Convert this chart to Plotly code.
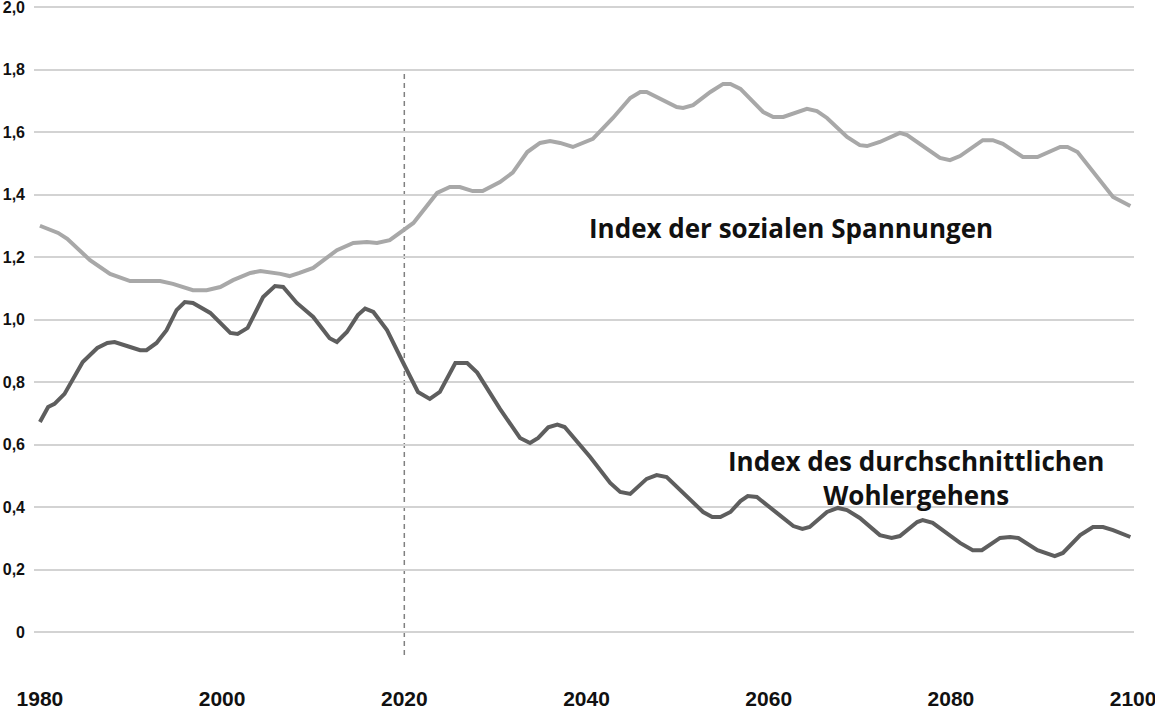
import plotly.graph_objects as go

# Index der sozialen Spannungen (light line)
years_tension = [1980.0, 1982.0, 1983.0, 1985.5, 1987.7, 1989.9, 1993.2, 1994.6, 1996.8, 1998.3,
                 1999.8, 2001.2, 2003.1, 2004.2, 2006.4, 2007.4, 2008.5, 2010.0, 2012.6, 2014.4,
                 2015.9, 2017.0, 2018.4, 2019.5, 2021.0, 2023.6, 2025.0, 2026.1, 2027.5, 2028.6,
                 2030.5, 2031.9, 2033.5, 2034.9, 2036.0, 2037.1, 2038.5, 2040.7, 2042.9, 2044.8,
                 2045.9, 2046.6, 2049.9, 2050.6, 2051.7, 2053.6, 2055.0, 2055.8, 2056.9, 2059.4,
                 2060.5, 2061.6, 2064.2, 2065.3, 2066.4, 2068.6, 2070.0, 2070.8, 2072.2, 2074.4,
                 2075.2, 2078.8, 2079.9, 2081.0, 2083.5, 2084.6, 2085.7, 2087.9, 2089.5, 2092.0,
                 2092.8, 2093.9, 2096.1, 2097.8, 2099.7]
tension = [1.300, 1.277, 1.258, 1.190, 1.146, 1.123, 1.123, 1.114, 1.094, 1.094,
           1.104, 1.126, 1.149, 1.155, 1.146, 1.139, 1.149, 1.165, 1.222, 1.245,
           1.248, 1.245, 1.254, 1.277, 1.309, 1.405, 1.424, 1.424, 1.411, 1.411,
           1.440, 1.470, 1.536, 1.565, 1.571, 1.565, 1.552, 1.578, 1.645, 1.709,
           1.728, 1.728, 1.680, 1.677, 1.686, 1.728, 1.754, 1.754, 1.738, 1.664,
           1.648, 1.648, 1.674, 1.667, 1.645, 1.584, 1.558, 1.555, 1.568, 1.597,
           1.590, 1.517, 1.510, 1.523, 1.574, 1.574, 1.562, 1.520, 1.520, 1.552,
           1.552, 1.536, 1.456, 1.392, 1.363]

# Index des durchschnittlichen Wohlergehens (dark line)
years_wellbeing = [1980.0, 1980.9, 1981.6, 1982.7, 1984.7, 1986.3, 1987.4, 1988.2, 1989.9, 1991.0,
                   1991.7, 1992.8, 1993.9, 1995.0, 1995.9, 1996.8, 1998.7, 2000.0, 2000.9, 2001.7,
                   2002.8, 2004.5, 2005.8, 2006.7, 2008.2, 2010.0, 2011.8, 2012.6, 2013.7, 2014.9,
                   2015.7, 2016.6, 2018.1, 2019.9, 2021.5, 2022.8, 2023.9, 2025.6, 2026.9, 2028.0,
                   2030.5, 2032.7, 2033.8, 2034.7, 2035.8, 2036.8, 2037.6, 2040.4, 2042.6, 2043.7,
                   2044.8, 2046.6, 2047.7, 2048.8, 2050.6, 2052.8, 2053.8, 2054.7, 2055.8, 2056.9,
                   2057.7, 2058.7, 2061.2, 2062.7, 2063.7, 2064.5, 2066.4, 2067.6, 2068.6, 2070.0,
                   2072.2, 2073.5, 2074.4, 2076.3, 2076.9, 2078.0, 2081.0, 2082.4, 2083.4, 2085.4,
                   2086.5, 2087.4, 2089.5, 2091.4, 2092.3, 2094.2, 2095.6, 2096.7, 2097.8, 2099.7]
wellbeing = [0.672, 0.720, 0.730, 0.762, 0.864, 0.909, 0.925, 0.928, 0.912, 0.902,
             0.902, 0.925, 0.966, 1.030, 1.056, 1.053, 1.021, 0.982, 0.957, 0.954,
             0.973, 1.072, 1.107, 1.104, 1.053, 1.008, 0.940, 0.928, 0.960, 1.014,
             1.035, 1.024, 0.966, 0.860, 0.768, 0.746, 0.768, 0.861, 0.861, 0.830,
             0.714, 0.621, 0.605, 0.621, 0.655, 0.664, 0.656, 0.560, 0.477, 0.448,
             0.442, 0.490, 0.502, 0.496, 0.445, 0.384, 0.368, 0.368, 0.384, 0.419,
             0.435, 0.432, 0.374, 0.339, 0.330, 0.336, 0.384, 0.397, 0.390, 0.365,
             0.310, 0.301, 0.307, 0.352, 0.358, 0.349, 0.285, 0.262, 0.262, 0.301,
             0.304, 0.301, 0.262, 0.243, 0.253, 0.310, 0.336, 0.336, 0.326, 0.304]

x_ticks = [1980, 2000, 2020, 2040, 2060, 2080, 2100]
y_ticks = [0, 0.2, 0.4, 0.6, 0.8, 1.0, 1.2, 1.4, 1.6, 1.8, 2.0]
y_ticklabels = ["0", "0,2", "0,4", "0,6", "0,8", "1,0", "1,2", "1,4", "1,6", "1,8", "2,0"]

label_tension = "Index der sozialen Spannungen"
label_wellbeing = "Index des durchschnittlichen<br>Wohlergehens"

y_min, y_max = -0.0736, 2.0064
tick_font = "'Liberation Sans', Arial, sans-serif"
label_font = "'Open Sans', Lato, sans-serif"

fig = go.Figure()

fig.add_trace(go.Scatter(
    x=years_tension, y=tension, mode="lines",
    line=dict(color="#a8a8a8", width=4),
    hoverinfo="skip", showlegend=False,
))
fig.add_trace(go.Scatter(
    x=years_wellbeing, y=wellbeing, mode="lines",
    line=dict(color="#5e5e5e", width=4),
    hoverinfo="skip", showlegend=False,
))

# dashed marker for the present
fig.add_shape(type="line", x0=2020, x1=2020, y0=y_min, y1=1.8,
              line=dict(color="#808080", width=1.5, dash="5px,4px"), layer="below")

fig.add_annotation(x=2062.5, y=1.293, text=label_tension, showarrow=False,
                   font=dict(family=label_font, size=26, color="#111111", weight="bold"))
fig.add_annotation(x=2076.2, y=0.493, text=label_wellbeing, showarrow=False, align="center",
                   font=dict(family=label_font, size=26, color="#111111", weight="bold"))

fig.update_layout(
    width=1155, height=711,
    margin=dict(l=34, r=21, t=5, b=56),
    paper_bgcolor="white", plot_bgcolor="white",
    xaxis=dict(
        range=[1979.35, 2100.1], automargin=False,
        tickvals=x_ticks, ticktext=[str(v) for v in x_ticks],
        showgrid=False, zeroline=False, showline=False, ticks="",
        tickfont=dict(family=tick_font, size=21, color="#111111", weight="bold"),
        ticklabelstandoff=29, ticklabeloverflow="allow",
    ),
    yaxis=dict(
        range=[y_min, y_max], automargin=False,
        tickvals=y_ticks, ticktext=y_ticklabels,
        showgrid=True, gridcolor="#d3d3d3", gridwidth=1.5,
        zeroline=False, showline=False, ticks="",
        tickfont=dict(family=tick_font, size=16, color="#111111", weight="bold"),
        ticklabelstandoff=8, ticklabeloverflow="allow",
    ),
)

fig.write_html("out.html", config={"displayModeBar": False},
               post_script="document.body.style.margin = '0';")
